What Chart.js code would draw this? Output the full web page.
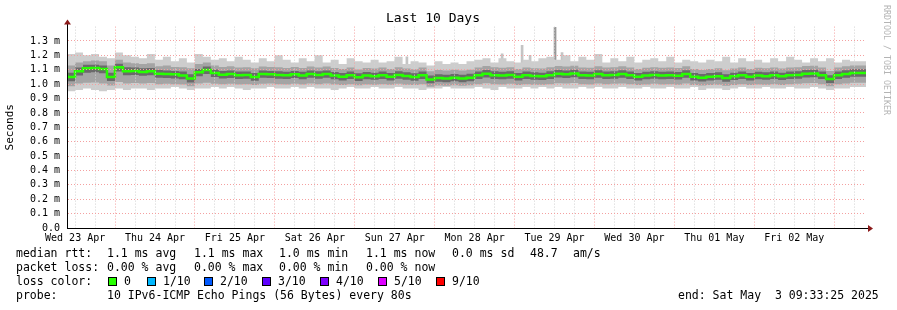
<!DOCTYPE html>
<html><head><meta charset="utf-8">
<script src="https://cdn.jsdelivr.net/npm/chart.js@4.4.1/dist/chart.umd.min.js"></script>
<style>html,body{margin:0;padding:0;background:#fff;}#wrap{position:relative;width:897px;height:310px;}canvas{display:block;}</style>
</head><body><div id="wrap"><canvas id="c" width="897" height="310"></canvas></div>
<script>
// ---------- DATA ----------
const chartTitle = 'Last 10 Days';
const yAxisTitle = 'Seconds';
const dayLabels = ['Wed 23 Apr','Thu 24 Apr','Fri 25 Apr','Sat 26 Apr','Sun 27 Apr','Mon 28 Apr','Tue 29 Apr','Wed 30 Apr','Thu 01 May','Fri 02 May'];
const spanHours = 240;            // 10 days
const hoursToFirstNoon = 2.443;   // start Wed 23 Apr 09:33:25 -> 12:00
const sampleStepHours = 2.4;      // one smoke sample = 2.4 h

// median rtt (ms)
const median = [
1.080,1.050,1.090,1.110,1.112,1.105,1.050,1.118,1.090,1.092,
1.085,1.090,1.072,1.070,1.068,1.060,1.040,1.082,1.098,1.078,
1.066,1.070,1.062,1.064,1.050,1.070,1.068,1.064,1.062,1.068,
1.060,1.070,1.064,1.070,1.060,1.052,1.062,1.048,1.060,1.055,
1.062,1.052,1.064,1.056,1.050,1.062,1.032,1.042,1.040,1.045,
1.040,1.045,1.062,1.072,1.062,1.060,1.064,1.052,1.062,1.056,
1.054,1.062,1.072,1.068,1.074,1.062,1.060,1.070,1.062,1.064,
1.070,1.062,1.052,1.060,1.064,1.060,1.062,1.058,1.070,1.052,
1.044,1.052,1.055,1.042,1.054,1.062,1.052,1.060,1.055,1.062,
1.054,1.062,1.064,1.072,1.074,1.062,1.035,1.062,1.070,1.078];
// dark smoke (inner pings)
const innerHi = [
1.105,1.080,1.115,1.135,1.135,1.130,1.080,1.142,1.118,1.115,
1.110,1.112,1.098,1.095,1.092,1.088,1.068,1.105,1.122,1.102,
1.092,1.094,1.088,1.088,1.078,1.094,1.092,1.090,1.086,1.092,
1.086,1.094,1.090,1.094,1.085,1.078,1.088,1.075,1.085,1.080,
1.088,1.078,1.090,1.082,1.076,1.088,1.060,1.068,1.066,1.070,
1.066,1.072,1.088,1.098,1.090,1.086,1.090,1.078,1.088,1.082,
1.080,1.090,1.098,1.094,1.100,1.088,1.086,1.096,1.088,1.090,
1.096,1.088,1.078,1.086,1.090,1.086,1.088,1.084,1.096,1.078,
1.070,1.078,1.082,1.068,1.080,1.088,1.078,1.086,1.082,1.088,
1.080,1.088,1.090,1.098,1.100,1.088,1.062,1.088,1.096,1.104];
const innerLo = [
1.050,1.020,1.060,1.080,1.082,1.075,1.022,1.088,1.062,1.064,
1.058,1.062,1.044,1.042,1.040,1.034,1.012,1.055,1.070,1.050,
1.040,1.042,1.036,1.038,1.024,1.044,1.042,1.038,1.036,1.042,
1.034,1.044,1.038,1.044,1.034,1.026,1.036,1.022,1.034,1.030,
1.036,1.026,1.038,1.030,1.024,1.036,1.006,1.016,1.014,1.020,
1.014,1.020,1.036,1.046,1.036,1.034,1.038,1.026,1.036,1.030,
1.028,1.036,1.046,1.042,1.048,1.036,1.034,1.044,1.036,1.038,
1.044,1.036,1.026,1.034,1.038,1.034,1.036,1.032,1.044,1.026,
1.018,1.026,1.030,1.016,1.028,1.036,1.026,1.034,1.030,1.036,
1.028,1.036,1.038,1.046,1.048,1.036,1.008,1.036,1.044,1.052];
// medium smoke
const midHi = [
1.140,1.130,1.150,1.160,1.165,1.160,1.130,1.170,1.150,1.145,
1.140,1.145,1.125,1.130,1.120,1.118,1.110,1.140,1.150,1.130,
1.120,1.125,1.115,1.118,1.110,1.122,1.120,1.118,1.112,1.120,
1.112,1.122,1.116,1.122,1.112,1.105,1.115,1.102,1.112,1.108,
1.115,1.105,1.118,1.108,1.104,1.115,1.090,1.098,1.095,1.100,
1.095,1.100,1.116,1.126,1.118,1.114,1.118,1.106,1.116,1.110,
1.108,1.118,1.126,1.122,1.128,1.116,1.114,1.124,1.116,1.118,
1.124,1.116,1.106,1.114,1.118,1.114,1.116,1.112,1.124,1.106,
1.098,1.106,1.110,1.096,1.108,1.116,1.106,1.114,1.110,1.116,
1.108,1.116,1.118,1.126,1.128,1.116,1.092,1.116,1.124,1.130];
const midLo = [
1.000,0.985,1.005,1.010,1.012,1.005,0.990,1.015,1.005,1.008,
1.005,1.008,1.000,1.002,1.000,0.998,0.985,1.004,1.010,1.002,
1.000,1.002,0.998,1.000,0.994,1.002,1.004,1.000,0.998,1.002,
0.998,1.004,1.000,1.004,0.998,0.994,1.000,0.992,0.998,0.996,
1.000,0.995,1.002,0.996,0.994,1.000,0.982,0.990,0.988,0.992,
0.988,0.992,1.000,1.006,1.000,0.998,1.002,0.994,1.000,0.996,
0.996,1.000,1.006,1.004,1.008,1.000,0.998,1.004,1.000,1.002,
1.004,1.000,0.994,0.998,1.002,0.998,1.000,0.996,1.004,0.994,
0.990,0.994,0.996,0.988,0.994,1.000,0.994,0.998,0.996,1.000,
0.994,1.000,1.002,1.006,1.008,1.000,0.985,1.000,1.004,1.010];
// light smoke (min / max ping)
const outerHi = [
1.19,1.21,1.22,1.20,1.21,1.19,1.18,1.22,1.20,1.19,
1.18,1.21,1.17,1.19,1.16,1.18,1.15,1.21,1.19,1.17,
1.18,1.16,1.19,1.17,1.15,1.18,1.16,1.20,1.17,1.15,
1.18,1.16,1.20,1.15,1.17,1.14,1.18,1.16,1.15,1.17,
1.15,1.16,1.19,1.14,1.16,1.15,1.13,1.16,1.14,1.15,
1.14,1.16,1.17,1.18,1.15,1.18,1.16,1.15,1.17,1.16,
1.18,1.19,1.17,1.20,1.16,1.19,1.17,1.21,1.15,1.18,
1.16,1.19,1.15,1.17,1.18,1.16,1.19,1.15,1.17,1.16,
1.15,1.17,1.16,1.19,1.15,1.18,1.16,1.17,1.15,1.18,
1.16,1.19,1.17,1.15,1.18,1.16,1.18,1.15,1.17,1.16];
const outerLo = [
0.96,0.95,0.96,0.97,0.96,0.95,0.96,0.97,0.96,0.97,
0.97,0.96,0.97,0.97,0.98,0.97,0.96,0.97,0.97,0.98,
0.97,0.98,0.97,0.96,0.97,0.97,0.98,0.97,0.97,0.98,
0.97,0.98,0.97,0.97,0.96,0.97,0.98,0.97,0.97,0.98,
0.97,0.97,0.98,0.97,0.97,0.96,0.97,0.97,0.98,0.97,
0.97,0.97,0.98,0.97,0.96,0.98,0.97,0.97,0.98,0.97,
0.98,0.97,0.98,0.97,0.97,0.98,0.97,0.98,0.97,0.97,
0.98,0.97,0.97,0.98,0.97,0.97,0.98,0.97,0.97,0.98,
0.96,0.97,0.97,0.96,0.97,0.98,0.97,0.97,0.98,0.97,
0.97,0.98,0.97,0.97,0.98,0.97,0.96,0.97,0.97,0.98];
// isolated slow pings (hours since start, ms)
const spikeHours  = [102.1, 130.7, 136.7, 139.1, 146.6, 148.7];
const spikeValues = [1.19, 1.21, 1.27, 1.20, 1.395, 1.22];
const spikeBase   = [1.10, 1.10, 1.10, 1.10, 1.10, 1.10];

// legend texts
const rttStats  = ['1.1 ms avg','1.1 ms max','1.0 ms min','1.1 ms now','0.0 ms sd','48.7','am/s'];
const lossStats = ['0.00 % avg','0.00 % max','0.00 % min','0.00 % now'];
const lossLabels = ['0','1/10','2/10','3/10','4/10','5/10','9/10'];
const lossColors = ['#26ff00','#00b8ff','#0059ff','#5e00ff','#7e00ff','#dd00ff','#ff0000'];
const probeText = '10 IPv6-ICMP Echo Pings (56 Bytes) every 80s';
const endText = 'end: Sat May  3 09:33:25 2025';
const watermark = 'RRDTOOL / TOBI OETIKER';

// ---------- LAYOUT ----------
const MONO = '"DejaVu Sans Mono", monospace';
const rttX = [107,194,279,366,452,530,573];
const lossX = [107,194,279,366];
const swatchX = [108,147,204,262,320,378,436];

const sampleHours = [];
for (let i = 0; i <= median.length; i++) sampleHours.push(Math.min(i * sampleStepHours, spanHours));
const gridHours = [];
for (let h = hoursToFirstNoon; h < spanHours; h += 6) gridHours.push(h);

function series(arr){ return sampleHours.map((h,i)=>({x:h, y:arr[Math.min(i,arr.length-1)]})); }
const base = {type:'line', pointRadius:0, borderWidth:0, borderColor:'rgba(0,0,0,0)', stepped:'after'};
function band(hi, lo, color){
  return [Object.assign({}, base, {data:series(hi), fill:'+1', backgroundColor:color}),
          Object.assign({}, base, {data:series(lo), fill:false})];
}

const datasets = [
  Object.assign({}, base, {data:series(median), borderWidth:2.5, borderColor:'#26ff00', fill:false}),
  ...band(innerHi, innerLo, '#6a6a6a'),
  ...band(midHi, midLo, '#a4a4a4'),
  ...band(outerHi, outerLo, '#cdcdcd'),
  {type:'bar', data: spikeHours.map((h,i)=>({x:h, y:[spikeBase[i], spikeValues[i]]})),
   backgroundColor: spikeValues.map(v => v > 1.3 ? '#999999' : '#c4c4c4'), barThickness:2, grouped:false}
];

const decor = {
  id:'smokeDecor',
  afterDraw(chart){
    const ctx = chart.ctx, a = chart.chartArea;
    ctx.save();
    // axis extensions + arrows
    ctx.strokeStyle = '#000'; ctx.lineWidth = 1;
    ctx.beginPath(); ctx.moveTo(a.right, Math.round(a.bottom)+0.5); ctx.lineTo(a.right+3, Math.round(a.bottom)+0.5); ctx.stroke();
    ctx.beginPath(); ctx.moveTo(Math.round(a.left)+0.5, a.top); ctx.lineTo(Math.round(a.left)+0.5, a.top-3); ctx.stroke();
    ctx.fillStyle = '#8b1a1a';
    ctx.beginPath(); ctx.moveTo(a.right+2, a.bottom-3); ctx.lineTo(a.right+7, a.bottom+0.5); ctx.lineTo(a.right+2, a.bottom+4); ctx.closePath(); ctx.fill();
    ctx.beginPath(); ctx.moveTo(a.left-3, a.top-2); ctx.lineTo(a.left+0.5, a.top-7); ctx.lineTo(a.left+4, a.top-2); ctx.closePath(); ctx.fill();
    // watermark
    ctx.save();
    ctx.translate(886, 5); ctx.rotate(Math.PI/2);
    ctx.font = '8.3px ' + MONO; ctx.fillStyle = '#b4b4b4'; ctx.textBaseline = 'middle'; ctx.textAlign = 'left';
    ctx.fillText(watermark, 0, 0);
    ctx.restore();
    // legend
    ctx.font = '11.5px ' + MONO; ctx.fillStyle = '#000'; ctx.textBaseline = 'middle'; ctx.textAlign = 'left';
    ctx.fillText('median rtt:', 16, 254);
    rttStats.forEach((t,i)=>ctx.fillText(t, rttX[i], 254));
    ctx.fillText('packet loss:', 16, 268);
    lossStats.forEach((t,i)=>ctx.fillText(t, lossX[i], 268));
    ctx.fillText('loss color:', 16, 282);
    lossLabels.forEach((t,i)=>{
      ctx.fillStyle = lossColors[i]; ctx.fillRect(swatchX[i], 277, 8, 8);
      ctx.strokeStyle = '#000'; ctx.strokeRect(swatchX[i]+0.5, 277.5, 8, 8);
      ctx.fillStyle = '#000'; ctx.fillText(t, swatchX[i]+16, 282);
    });
    ctx.fillText('probe:', 16, 296);
    ctx.fillText(probeText, 107, 296);
    ctx.fillText(endText, 678, 296);
    ctx.restore();
  }
};

new Chart(document.getElementById('c'), {
  type:'line',
  data:{datasets},
  plugins:[decor],
  options:{
    responsive:false, animation:false, devicePixelRatio:1,
    layout:{padding:{left:0, right:31, top:0, bottom:62}},
    plugins:{
      legend:{display:false}, tooltip:{enabled:false},
      title:{display:true, text:chartTitle, color:'#000', font:{family:MONO, size:13, weight:'normal'}, padding:{top:11, bottom:0}},
      filler:{propagate:false}
    },
    scales:{
      x:{type:'linear', min:0, max:spanHours, offset:false,
         afterFit(s){ s.height = 20; },
         afterBuildTicks(s){ s.ticks = gridHours.map(v=>({value:v})); },
         grid:{z:1, offset:false, drawTicks:false, lineWidth:1,
               color: c => (c.index % 4 === 2) ? '#f4a0a0' : '#d2d2d2'},
         border:{display:true, z:2, color:'#000', width:1, dash:[1,2]},
         ticks:{autoSkip:false, maxRotation:0, padding:4, color:'#000', font:{family:MONO, size:10},
                callback:(v,i)=> (i % 4 === 0) ? dayLabels[i/4] : ''}
      },
      y:{min:0, max:1.4,
         afterFit(s){ s.width = 67; },
         grid:{z:1, drawTicks:false, lineWidth:1,
               color: c => { const k = Math.round(c.tick.value*10); return (k===0 || k===14) ? 'rgba(0,0,0,0)' : '#f4a0a0'; }},
         border:{display:true, z:2, color:'#000', width:1, dash:[1,2]},
         title:{display:true, text:yAxisTitle, color:'#000', font:{family:MONO, size:11}, padding:{top:4,bottom:0}},
         ticks:{stepSize:0.1, autoSkip:false, padding:7, color:'#000', font:{family:MONO, size:10},
                callback:v=>{ const k = Math.round(v*10); if (k===14) return ''; return k===0 ? '0.0' : (k/10).toFixed(1)+' m'; }}
      }
    }
  }
});
</script></body></html>
